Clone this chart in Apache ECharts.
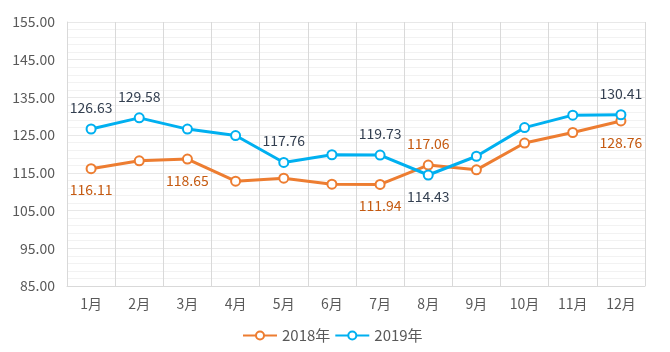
<!DOCTYPE html>
<html>
<head>
<meta charset="utf-8">
<script src="https://cdn.jsdelivr.net/npm/echarts@6/dist/echarts.min.js"></script>
<style>
body { margin: 0; background: #fff; }
#main { width: 670px; height: 352px; }
</style>
</head>
<body>
<div id="main"></div>
<script>
var months = ['1月', '2月', '3月', '4月', '5月', '6月', '7月', '8月', '9月', '10月', '11月', '12月'];
var values2018 = [116.11, 118.2, 118.65, 112.8, 113.6, 112.0, 111.94, 117.06, 115.8, 122.9, 125.7, 128.76];
var values2019 = [126.63, 129.58, 126.6, 124.9, 117.76, 119.8, 119.73, 114.43, 119.4, 127.0, 130.3, 130.41];
// which points carry a value label, and where
var labels2018 = { 0: 'bottom', 2: 'bottom', 6: 'bottom', 7: 'top', 11: 'bottom' };
var labels2019 = { 0: 'top', 1: 'top', 4: 'top', 6: 'top', 7: 'bottom', 11: 'top' };

var font = '"Noto Sans CJK SC", "Noto Sans", sans-serif';

var buildData = function(values, labels, color) {
	return values.map(function(v, i) {
		var item = { value: v };
		if (labels[i]) {
			item.label = {
				show: true,
				position: labels[i],
				distance: 9,
				color: color,
				fontSize: 14,
				fontFamily: font,
				formatter: function(p) { return p.value.toFixed(2); }
			};
		}
		return item;
	});
};

var chart = echarts.init(document.getElementById('main'));
var option = {
	animation: false,
	textStyle: { fontFamily: font },
	grid: { left: 67, right: 25, top: 22, bottom: 66 },
	legend: {
		bottom: 4,
		left: 237,
		itemWidth: 34,
		itemHeight: 10,
		itemGap: 4,
		textStyle: { color: '#595959', fontSize: 15, fontFamily: font },
		data: ['2018年', '2019年']
	},
	xAxis: {
		type: 'category',
		data: months,
		boundaryGap: true,
		axisLine: { lineStyle: { color: '#d9d9d9' } },
		axisTick: { show: false },
		axisLabel: { color: '#595959', fontSize: 14, margin: 11, fontFamily: font },
		splitLine: { show: true, lineStyle: { color: '#d9d9d9' } }
	},
	yAxis: {
		type: 'value',
		min: 85,
		max: 155,
		interval: 10,
		axisLine: { show: true, lineStyle: { color: '#d9d9d9' } },
		axisTick: { show: false },
		axisLabel: {
			color: '#595959', fontSize: 14, margin: 12, fontFamily: font,
			formatter: function(v) { return v.toFixed(2); }
		},
		splitLine: { lineStyle: { color: '#e8e8e8' } },
		minorTick: { show: false, splitNumber: 5 },
		minorSplitLine: { show: true, lineStyle: { color: '#f2f2f2' } }
	},
	series: [{
		name: '2018年',
		type: 'line',
		data: buildData(values2018, labels2018, '#c55a11'),
		symbol: 'circle',
		symbolSize: 9,
		lineStyle: { color: '#ed7d31', width: 3 },
		itemStyle: { color: '#fff', borderColor: '#ed7d31', borderWidth: 2 }
	}, {
		name: '2019年',
		type: 'line',
		data: buildData(values2019, labels2019, '#333f50'),
		symbol: 'circle',
		symbolSize: 9,
		lineStyle: { color: '#00b0f0', width: 3 },
		itemStyle: { color: '#fff', borderColor: '#00b0f0', borderWidth: 2 }
	}]
};
chart.setOption(option);
</script>
</body>
</html>
